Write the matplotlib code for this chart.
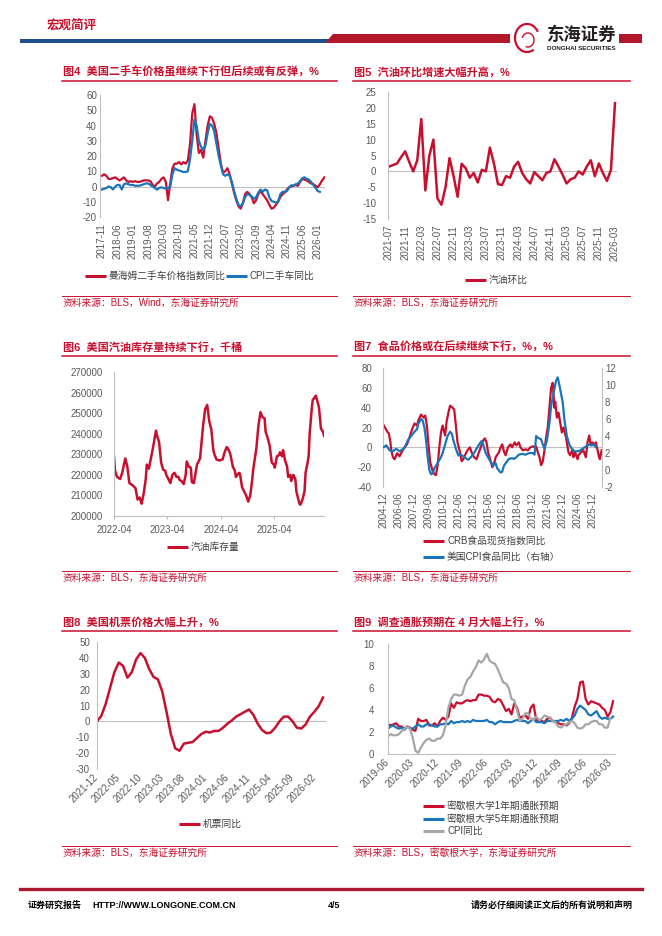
import numpy as np
import pandas as pd
import matplotlib
matplotlib.use('Agg')
import matplotlib.pyplot as plt
from matplotlib.patches import Polygon, Rectangle, Arc

plt.rcParams['font.family'] = ['Liberation Sans', 'Noto Sans CJK SC']
plt.rcParams['axes.unicode_minus'] = False

W, H = 662, 936
RED = '#C8102E'
BLUE = '#1B75BB'
GRAY = '#A6A6A6'
TXT = '#595959'
AXC = '#BFBFBF'

# ---------- 图4 二手车 (月度, 2017-11 起) ----------
car_ticks = ['2017-11', '2018-06', '2019-01', '2019-08', '2020-03', '2020-10', '2021-05', '2021-12',
             '2022-07', '2023-02', '2023-09', '2024-04', '2024-11', '2025-06', '2026-01']
manheim = [7, 8, 7, 5, 5, 5.5, 6, 5, 4, 5, 6, 4, 3, 3.5, 3, 3.5, 3, 3, 3.5, 4, 4,
           4, 3.5, 1, 0, 2, 3, 5, 6, 3, -9, 2, 12, 15, 15, 16, 14.5, 16, 15, 17, 28, 48,
           54, 34, 22, 24, 19, 30, 40, 46, 45, 41, 35, 25, 15, 9, 10, 12, 8, 2, -4, -9,
           -13, -14.5, -11, -5, -3.5, -5, -7, -11, -9, -5, -3, -5, -7, -9, -12, -14.5, -14,
           -12, -10, -7, -5, -4, -2, -0.5, 0, 0.5, 1, 0.5, 3, 5, 4.5, 4, 3, 2, 1.5, 0.5,
           -0.5, 1.5, 4, 6]
cpi_car = [-2, -1.5, -1, 0, -0.5, -2, 0, 1, 1, -2, 1.5, 2, 1.5, 1, 1, 0.5, 0.5, 0.5, 1, 1.5, 2,
           2, 1, 0, -1, -2, -1, -0.5, -1, -1.5, -1, 0, 8, 12, 11, 10.5, 10, 9.5, 9.5, 10, 18, 30,
           44, 40, 30, 26, 24, 27, 35, 41, 40, 36, 28, 20, 14, 8, 7, 8, 7, 3, -3, -8, -12, -13,
           -11, -7, -5, -5.5, -6.5, -8, -7, -4, -2, -3.5, -2, -2.5, -7, -9.5, -10, -10.5, -10,
           -5, -3.5, -3.5, -3, -0.8, 0.8, 0.6, 1.5, 2, 3.5, 5.5, 6, 5, 4.5, 3, 1, -1, -3, -3.5]

# ---------- 图5 汽油环比 (2021-07 起) ----------
gas_ticks = ['2021-07', '2021-11', '2022-03', '2022-07', '2022-11', '2023-03', '2023-07', '2023-11',
             '2024-03', '2024-07', '2024-11', '2025-03', '2025-07', '2025-11', '2026-03']
gas_mom = [1.5, 2, 2.5, 4.5, 6.3, 3, 0, 3.5, 16.5, -6, 5, 10, -8.5, -10.5, -5, 4.2, -1.5, -8,
           2.4, 1, -2, -0.5, -3.5, 0.5, 0, 7.5, 2.5, -4, -4.3, -1.5, -2, 1.5, 3, -0.5, -2.5,
           -3.8, -0.2, -1.5, -2.8, -0.5, 0, 3.8, 1.5, -1, -3.8, -2.5, -2, 0, -1, 1.5, 3.5,
           -1.5, 2.5, -0.5, -3, 0.5, 21.5]

# ---------- 图6 汽油库存 (周度, 2022-04-01 起的周序号) ----------
stock_week = [0, 1, 3, 6, 8, 11, 13, 15, 18, 20, 21, 23, 25, 26, 27, 29, 31, 32, 34, 36,
              38, 41, 42, 44, 46, 48, 50, 51, 54, 55, 57, 59, 61, 63, 64, 66, 68, 70, 71, 73,
              75, 76, 78, 80, 81, 84, 87, 89, 91, 92, 93, 95, 97, 98, 100, 103, 106, 108, 110, 111,
              113, 114, 116, 118, 119, 122, 123, 125, 127, 129, 131, 133, 135, 136, 139, 141, 143, 145, 147, 148,
              150, 152, 154, 156, 157, 159, 161, 162, 164, 165, 167, 169, 170, 172, 173, 175, 177, 178, 179, 181,
              182, 184, 186, 187, 189, 190, 191, 193, 194, 195, 197, 199, 200, 201, 202, 204, 205]
stock = [229, 222, 219, 218, 221, 228, 224, 216, 215, 214, 213.5, 208, 209, 207.5, 206, 211, 218, 225, 223, 228,
         233, 241.5, 239, 236, 226, 222.5, 222, 220, 217, 216, 220, 221, 219, 219, 217.5, 217, 215.5, 220, 226.5, 224,
         223.5, 216.5, 216, 222, 225, 228, 244, 252, 254, 250, 246, 242, 232, 230, 227.5, 227, 227.5, 231, 233.5, 233,
         231, 229, 224, 222, 219, 221, 220.5, 214, 212, 210, 207, 210, 218, 223, 233, 244, 250.5, 248, 247.5, 241,
         238, 234, 226, 225, 223.5, 229, 229.5, 231, 229, 232, 227, 224, 219, 220, 217, 220, 218, 212, 210, 206,
         205.5, 208, 212, 221, 226, 229, 240, 252, 256.5, 257, 258.5, 255, 253, 248, 242.5, 241, 239]
stock_ticks = ['2022-04', '2023-04', '2024-04', '2025-04']

# ---------- 图7 食品价格 (月序号, 2004-12 起) ----------
food_ticks = ['2004-12', '2006-06', '2007-12', '2009-06', '2010-12', '2012-06', '2013-12', '2015-06',
              '2016-12', '2018-06', '2019-12', '2021-06', '2022-12', '2024-06', '2025-12']
crb_m = [0, 2, 4, 6, 8, 9, 11, 13, 16, 19, 22, 25, 28, 31, 34, 37, 40, 42, 45, 48,
         50, 52, 54, 56, 59, 61, 63, 65, 67, 69, 71, 74, 76, 78, 80, 83, 85, 87, 89, 92,
         94, 96, 98, 101, 104, 106, 109, 112, 114, 117, 120, 122, 124, 126, 129, 131, 133, 135, 139, 141,
         143, 145, 147, 150, 153, 155, 158, 160, 163, 165, 168, 171, 174, 177, 180, 182, 184, 186, 188, 190,
         192, 194, 196, 198, 200, 202, 204, 206, 207, 209, 211, 213, 215, 217, 220, 221, 223, 225, 228, 229,
         231, 234, 235, 238, 241, 244, 246, 248, 250, 252, 254, 256, 258, 260, 261, 263]
crb_food = [22, 19, 16, 14, 5, -3, -10, -12, -6, -9, -4, 0, 3, 10, 18, 24, 22, 28, 33, 30,
            32, 22, 2, -15, -24, -27, -28, -18, 0, 15, 22, 12, 27, 35, 42, 40, 38, 22, 5, -5,
            -14, -12, -8, -3, 0, -5, -10, -12, -7, 0, 7, 9, 5, -5, -14, -20, -17, -10, -5, 0,
            3, -4, -8, 0, 3, 0, 5, 2, 5, 0, -3, -2, -3, 0, 1, 0, 1, -5, -10, -18,
            -14, -3, 10, 20, 40, 60, 65, 40, 46, 30, 35, 25, 15, 20, 10, 5, -5, -8, -2, -10,
            -5, -12, -8, -5, -3, -10, 5, 12, 2, 5, 2, 5, -2, -10, -12, -3]
cpi_food_m = [0, 3, 7, 11, 15, 19, 22, 25, 29, 33, 37, 40, 42, 45, 47, 49, 51, 53, 55, 57,
              59, 61, 63, 66, 69, 71, 74, 77, 80, 82, 84, 87, 90, 93, 96, 99, 102, 105, 109, 112,
              115, 118, 120, 123, 127, 129, 132, 135, 137, 141, 143, 145, 148, 151, 155, 157, 160, 163, 167, 171,
              176, 180, 182, 184, 186, 190, 192, 194, 197, 200, 202, 205, 208, 210, 212, 216, 218, 221, 224, 227,
              230, 234, 237, 240, 243, 246, 249, 251, 254, 256]
cpi_food = [2.7, 2.9, 2.3, 2.2, 2.5, 2.2, 2.4, 2.6, 3.5, 4.0, 4.5, 4.8, 5.5, 6.0, 5.8, 5.0, 3.5, 1.5, 0.0, -0.5,
            -0.4, 0.2, 0.5, 1.0, 1.5, 2.0, 3.0, 4.0, 4.5, 4.3, 3.5, 2.5, 1.7, 1.8, 1.6, 1.4, 1.2, 1.5, 2.0, 2.5,
            3.0, 3.4, 3.0, 2.0, 1.3, 1.0, 0.5, 0.8, 0.2, -0.3, -0.2, 0.5, 0.9, 1.3, 1.4, 1.3, 1.5, 1.8, 1.9, 1.8,
            2.0, 2.0, 1.8, 4.0, 3.8, 3.6, 3.0, 2.5, 3.5, 5.5, 7.5, 9.0, 10.5, 10.9, 10.0, 8.0, 6.0, 4.0, 3.0, 2.5,
            2.2, 2.2, 2.3, 2.5, 2.7, 2.9, 3.0, 2.9, 3.0, 2.7]

# ---------- 图8 机票 (2021-12 起) ----------
air_ticks = ['2021-12', '2022-05', '2022-10', '2023-03', '2023-08', '2024-01', '2024-06', '2024-11',
             '2025-04', '2025-09', '2026-02']
airfare = [0, 3.5, 11, 21, 31, 37, 35, 27.5, 31, 39, 43, 40, 33, 28, 26.5, 19, 6, -8, -17, -18.5,
           -14, -13.5, -13, -10.5, -8, -6.5, -7, -6, -6, -4, -1.5, 0.5, 3, 4.5, 6, 7.5, 4, -1.5,
           -5.5, -7.5, -7, -4, 0, 3, 3, 0, -4, -4.5, -2, 3, 6, 9.5, 15]

# ---------- 图9 通胀预期 (2019-06 起) ----------
exp_ticks = ['2019-06', '2020-03', '2020-12', '2021-09', '2022-06', '2023-03', '2023-12', '2024-09',
             '2025-06', '2026-03']
mich_1y = [2.7, 2.6, 2.7, 2.8, 2.5, 2.5, 2.3,
           2.5, 2.4, 2.2, 2.1, 3.2, 3.0, 3.0, 3.1, 2.6, 2.6, 2.8, 2.5,
           3.0, 3.3, 3.1, 3.4, 4.6, 4.2, 4.7, 4.6, 4.6, 4.8, 4.9, 4.8,
           4.9, 4.9, 5.4, 5.4, 5.3, 5.3, 5.2, 4.8, 4.7, 5.0, 4.9, 4.4,
           3.9, 4.1, 3.6, 4.6, 4.2, 3.3, 3.4, 3.5, 3.2, 4.2, 4.5, 3.1,
           2.9, 3.0, 2.9, 3.2, 3.3, 3.0, 2.9, 2.8, 2.7, 2.7, 2.6, 2.8,
           3.3, 4.3, 5.0, 6.5, 6.6, 5.0, 4.5, 4.8, 4.7, 4.6, 4.5, 4.2,
           4.0, 3.4, 3.8, 4.8]
mich_5y = [2.3, 2.5, 2.6, 2.4, 2.3, 2.4, 2.2,
           2.5, 2.3, 2.3, 2.5, 2.7, 2.5, 2.5, 2.7, 2.7, 2.6, 2.5, 2.5,
           2.7, 2.7, 2.8, 2.7, 3.0, 2.8, 2.9, 2.9, 3.0, 2.9, 3.0, 2.9,
           3.1, 3.0, 3.0, 3.0, 3.0, 3.1, 2.9, 2.9, 2.7, 2.9, 3.0, 2.9,
           2.9, 2.9, 2.9, 3.0, 3.1, 3.0, 3.0, 3.0, 2.8, 3.0, 3.2, 2.9,
           2.9, 2.9, 2.8, 3.0, 3.0, 3.0, 3.0, 3.0, 3.1, 3.0, 3.2, 3.0,
           3.2, 3.5, 4.1, 4.4, 4.2, 4.0, 3.6, 3.5, 3.7, 3.9, 3.4, 3.2,
           3.3, 3.2, 3.2, 3.4]
cpi_yoy = [1.6, 1.8, 1.7, 1.7, 1.8, 2.1, 2.3,
           2.5, 2.3, 1.5, 0.3, 0.1, 0.6, 1.0, 1.3, 1.4, 1.2, 1.2, 1.4,
           1.4, 1.7, 2.6, 4.2, 5.0, 5.4, 5.4, 5.3, 5.4, 6.2, 6.8, 7.0,
           7.5, 7.9, 8.5, 8.3, 8.6, 9.1, 8.5, 8.3, 8.2, 7.7, 7.1, 6.5,
           6.4, 6.0, 5.0, 4.9, 4.0, 3.0, 3.2, 3.7, 3.7, 3.2, 3.1, 3.4,
           3.1, 3.2, 3.5, 3.4, 3.3, 3.0, 2.9, 2.5, 2.4, 2.6, 2.7, 2.9,
           3.0, 2.8, 2.4, 2.3, 2.4, 2.7, 2.7, 2.9, 3.0, 3.0, 2.7, 2.7,
           2.4, 2.4, 3.3]

fig = plt.figure(figsize=(W / 100, H / 100), dpi=100)

# 背景层, 像素坐标
bg = fig.add_axes([0, 0, 1, 1], zorder=-1)
bg.set_xlim(0, W)
bg.set_ylim(H, 0)
bg.axis('off')


def make_ax(l, t, r, b):
    ax = fig.add_axes([l / W, 1 - b / H, (r - l) / W, (b - t) / H])
    for s in ['top', 'right', 'bottom']:
        ax.spines[s].set_visible(False)
    ax.spines['left'].set_color(AXC)
    ax.spines['left'].set_linewidth(0.8)
    ax.tick_params(labelsize=7, labelcolor=TXT, length=0)
    ax.patch.set_alpha(0)
    return ax


def legend_row(x, y, color, label):
    bg.plot([x, x + 21], [y, y], color=color, lw=2.2, solid_capstyle='butt')
    bg.text(x + 24, y, label, fontsize=7, color='#404040', va='center')


# 页眉
bg.text(47, 26, '宏观简评', fontsize=9, fontweight='bold', color=RED, va='center')
bg.add_patch(Rectangle((20, 38.5), 312, 4.5, color='#1F4E8C', lw=0))
bg.add_patch(Polygon([(333, 34), (510, 34), (510, 43), (325, 43)], color='#B0182A', lw=0))
bg.add_patch(Rectangle((619, 34), 23, 9, color='#B0182A', lw=0))
bg.add_patch(Arc((527, 38), 24, 28, theta1=60, theta2=330, color=RED, lw=1.6))
bg.add_patch(Arc((528, 40), 12, 14, theta1=200, theta2=470, color=RED, lw=1.0))
bg.text(547, 34, '东海证券', fontsize=12.5, fontweight='bold', color='#231F20', va='center')
bg.text(547, 48, 'DONGHAI SECURITIES', fontsize=4.5, fontweight='bold', color='#231F20', va='center')

# 页脚
bg.plot([20, 642], [888.5, 888.5], color='#A6192E', lw=2.4)
bg.text(28, 905, '证券研究报告', fontsize=6.5, fontweight='bold', color='black', va='center')
bg.text(92, 905, 'HTTP://WWW.LONGONE.COM.CN', fontsize=6.5, fontweight='bold', color='black', va='center')
bg.text(334, 905, '4/5', fontsize=6.5, fontweight='bold', color='black', va='center', ha='center')
bg.text(633, 905, '请务必仔细阅读正文后的所有说明和声明', fontsize=6.5, fontweight='bold', color='black',
        va='center', ha='right')

# 标题与来源
panels = [
    (62, 337, 72, '图4  美国二手车价格虽继续下行但后续或有反弹，%', '资料来源：BLS，Wind，东海证券研究所'),
    (353, 630, 72, '图5  汽油环比增速大幅升高，%', '资料来源：BLS，东海证券研究所'),
    (62, 337, 347, '图6  美国汽油库存量持续下行，千桶', '资料来源：BLS，东海证券研究所'),
    (353, 630, 347, '图7  食品价格或在后续继续下行，%，%', '资料来源：BLS，东海证券研究所'),
    (62, 337, 622, '图8  美国机票价格大幅上升，%', '资料来源：BLS，东海证券研究所'),
    (353, 630, 622, '图9  调查通胀预期在 4 月大幅上行，%', '资料来源：BLS，密歇根大学，东海证券研究所'),
]
for x0, x1, ty, title, src in panels:
    bg.text(x0 + 1, ty, title, fontsize=8, fontweight='bold', color=RED, va='center')
    bg.plot([x0, x1], [ty + 9, ty + 9], color=RED, lw=1.1)
    bg.plot([x0, x1], [ty + 224, ty + 224], color=RED, lw=0.7)
    bg.text(x0 + 1, ty + 231, src, fontsize=7, color=RED, va='center')

# 图4
ax = make_ax(100, 95, 325, 217)
ax.axhline(0, color=AXC, lw=0.8, zorder=0)
ax.plot(np.arange(len(manheim)), manheim, color=RED, lw=1.6)
ax.plot(np.arange(len(cpi_car)), cpi_car, color=BLUE, lw=1.6)
ax.set_xlim(-0.9, 101.3)
ax.set_ylim(-20, 60)
ax.set_yticks(range(-20, 61, 10))
ax.set_xticks(range(0, 99, 7))
ax.set_xticklabels(car_ticks, rotation=90)
ax.tick_params(axis='y', pad=2.2)
ax.tick_params(axis='x', pad=4.3)
legend_row(85, 276, RED, '曼海姆二手车价格指数同比')
legend_row(226, 276, BLUE, 'CPI二手车同比')

# 图5
ax = make_ax(388, 92, 617, 219)
ax.axhline(0, color=AXC, lw=0.8, zorder=0)
ax.plot(np.arange(len(gas_mom)), gas_mom, color=RED, lw=1.8)
ax.set_xlim(-0.25, 56.5)
ax.set_ylim(-15, 25)
ax.set_yticks(range(-15, 26, 5))
ax.set_xticks(range(0, 57, 4))
ax.set_xticklabels(gas_ticks, rotation=90)
ax.tick_params(axis='y', pad=8.5)
ax.tick_params(axis='x', pad=4.3)
legend_row(465, 280, RED, '汽油环比')

# 图6
ax = make_ax(114, 372, 324, 516)
start = pd.Timestamp('2022-04-01')
dates = start + pd.to_timedelta(np.array(stock_week) * 7, unit='D')
ax.plot(dates, np.array(stock) * 1000, color=RED, lw=1.8)
ax.spines['bottom'].set_visible(True)
ax.spines['bottom'].set_color(AXC)
ax.spines['bottom'].set_linewidth(0.8)
ax.set_xlim(dates[0], dates[-1])
ax.set_ylim(200000, 270000)
ax.set_yticks(range(200000, 270001, 10000))
ax.set_xticks(pd.to_datetime([t + '-01' for t in stock_ticks]))
ax.set_xticklabels(stock_ticks)
ax.tick_params(axis='y', pad=8)
ax.tick_params(axis='x', pad=4, length=2.5, color=AXC)
legend_row(167, 547, RED, '汽油库存量')

# 图7
ax = make_ax(383, 368, 602, 487)
ax2 = ax.twinx()
for s in ['top', 'left', 'bottom']:
    ax2.spines[s].set_visible(False)
ax2.spines['right'].set_color(AXC)
ax2.spines['right'].set_linewidth(0.8)
ax.axhline(0, color=AXC, lw=0.8, zorder=0)
ax.plot(crb_m, crb_food, color=RED, lw=1.6)
ax2.plot(cpi_food_m, cpi_food, color=BLUE, lw=1.6)
ax.set_xlim(-1, 263.5)
ax.set_ylim(-40, 80)
ax.set_yticks(range(-40, 81, 20))
ax2.set_ylim(-2, 12)
ax2.set_yticks(range(-2, 13, 2))
ax.set_xticks(range(0, 253, 18))
ax.set_xticklabels(food_ticks, rotation=90)
ax.tick_params(axis='y', pad=8)
ax.tick_params(axis='x', pad=3.6)
ax2.tick_params(labelsize=7, labelcolor=TXT, length=0, pad=2.2)
legend_row(423, 541, RED, 'CRB食品现货指数同比')
legend_row(423, 557, BLUE, '美国CPI食品同比（右轴）')

# 图8
ax = make_ax(97, 642, 326, 769)
ax.axhline(0, color=AXC, lw=0.8, zorder=0)
ax.plot(np.arange(len(airfare)), airfare, color=RED, lw=1.8)
ax.set_xlim(0, 52.7)
ax.set_ylim(-30, 50)
ax.set_yticks(range(-30, 51, 10))
ax.set_xticks(range(0, 51, 5))
ax.set_xticklabels(air_ticks, rotation=45, ha='right', va='center', rotation_mode='anchor')
ax.tick_params(axis='y', pad=5)
ax.tick_params(axis='x', pad=5)
legend_row(179, 824, RED, '机票同比')

# 图9
ax = make_ax(388, 644, 615, 754)
ax.spines['bottom'].set_visible(True)
ax.spines['bottom'].set_color(AXC)
ax.spines['bottom'].set_linewidth(0.8)
ax.plot(np.arange(len(mich_1y)), mich_1y, color=RED, lw=1.6)
ax.plot(np.arange(len(mich_5y)), mich_5y, color=BLUE, lw=1.6)
ax.plot(np.arange(len(cpi_yoy)), cpi_yoy, color=GRAY, lw=1.6)
ax.set_xlim(0, 82.7)
ax.set_ylim(0, 10)
ax.set_yticks(range(0, 11, 2))
ax.set_xticks(range(0, 82, 9))
ax.set_xticklabels(exp_ticks, rotation=45, ha='right', va='center', rotation_mode='anchor')
ax.tick_params(axis='y', pad=10)
ax.tick_params(axis='x', pad=5)
legend_row(423, 806, RED, '密歇根大学1年期通胀预期')
legend_row(423, 818.5, BLUE, '密歇根大学5年期通胀预期')
legend_row(423, 831, GRAY, 'CPI同比')

fig.savefig('out.png', dpi=100)
